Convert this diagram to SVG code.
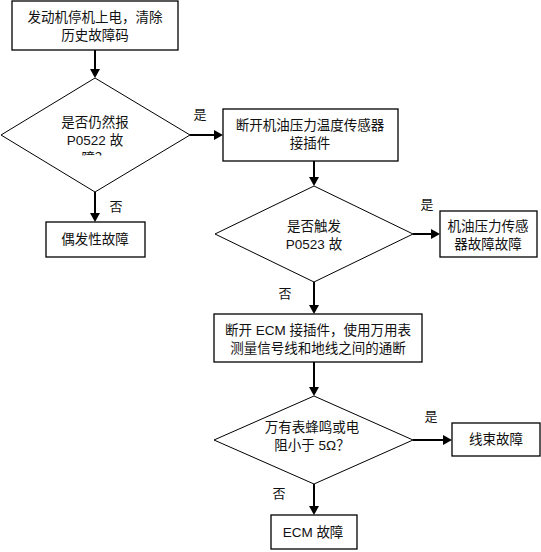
<svg xmlns="http://www.w3.org/2000/svg" width="541" height="552" viewBox="0 0 541 552">
<style>
.box{fill:#fff;stroke:#000;stroke-width:1.3}
.dia{fill:#fff;stroke:#000;stroke-width:1}
.ln{stroke:#000;stroke-width:2;fill:none}
.ah{fill:#000}
text{font-family:"Liberation Sans","Noto Sans CJK SC",sans-serif;font-size:13.5px;fill:#111;text-anchor:middle}
.lb{font-size:13px}
</style>
<defs>
<clipPath id="clip1"><rect x="0" y="0" width="200" height="155.5"/></clipPath>
</defs>
<rect width="541" height="552" fill="#fff"/>
<g id="connectors">
<line class="ln" x1="95" y1="50" x2="95" y2="70"/><polygon class="ah" points="90,69 100,69 95,78"/>
<line class="ln" x1="95" y1="192" x2="95" y2="214"/><polygon class="ah" points="90,213 100,213 95,222"/>
<line class="ln" x1="190" y1="135" x2="215" y2="135"/><polygon class="ah" points="214,130 214,140 223,135"/>
<line class="ln" x1="314" y1="161" x2="314" y2="178"/><polygon class="ah" points="309,177 319,177 314,186"/>
<line class="ln" x1="413" y1="234" x2="432" y2="234"/><polygon class="ah" points="431,229 431,239 440,234"/>
<line class="ln" x1="314" y1="282" x2="314" y2="306"/><polygon class="ah" points="309,305 319,305 314,314"/>
<line class="ln" x1="314" y1="362" x2="314" y2="388"/><polygon class="ah" points="309,387 319,387 314,396"/>
<line class="ln" x1="413" y1="440" x2="444" y2="440"/><polygon class="ah" points="443,435 443,445 452,440"/>
<line class="ln" x1="314" y1="484" x2="314" y2="507"/><polygon class="ah" points="309,506 319,506 314,515"/>
<text class="lb" x="116" y="211">否</text>
<text class="lb" x="200" y="119">是</text>
<text class="lb" x="427" y="209">是</text>
<text class="lb" x="285" y="298">否</text>
<text class="lb" x="431" y="421">是</text>
<text class="lb" x="279" y="498">否</text>
</g>
<g id="n1">
<rect class="box" x="12" y="1" width="166" height="49"/>
<text x="95" y="22">发动机停机上电，清除</text>
<text x="95" y="40">历史故障码</text>
</g>
<g id="d1">
<polygon class="dia" points="95,78 190,135 95,192 1,135"/>
<text x="95" y="127">是否仍然报</text>
<text x="95" y="145">P0522 故</text>
<text x="95" y="163" clip-path="url(#clip1)">障？</text>
</g>
<g id="n2">
<rect class="box" x="46" y="222" width="99" height="35"/>
<text x="95" y="244">偶发性故障</text>
</g>
<g id="n3">
<rect class="box" x="223" y="109" width="175" height="52"/>
<text x="310" y="130">断开机油压力温度传感器</text>
<text x="310" y="148">接插件</text>
</g>
<g id="d2">
<polygon class="dia" points="314,186 413,234 314,282 215,234"/>
<text x="314" y="231">是否触发</text>
<text x="314" y="249">P0523 故</text>
</g>
<g id="n4">
<rect class="box" x="440" y="211" width="97" height="46"/>
<text x="488" y="231">机油压力传感</text>
<text x="488" y="249">器故障故障</text>
</g>
<g id="n5">
<rect class="box" x="214" y="314" width="208" height="48"/>
<text x="318" y="335">断开 ECM 接插件，使用万用表</text>
<text x="318" y="353">测量信号线和地线之间的通断</text>
</g>
<g id="d3">
<polygon class="dia" points="314,396 413,440 314,484 214,440"/>
<text x="312" y="432">万有表蜂鸣或电</text>
<text x="312" y="450">阻小于 5Ω？</text>
</g>
<g id="n6">
<rect class="box" x="452" y="423" width="88" height="33"/>
<text x="496" y="444">线束故障</text>
</g>
<g id="n7">
<rect class="box" x="271" y="515" width="86" height="34"/>
<text x="313" y="537">ECM 故障</text>
</g>
</svg>
